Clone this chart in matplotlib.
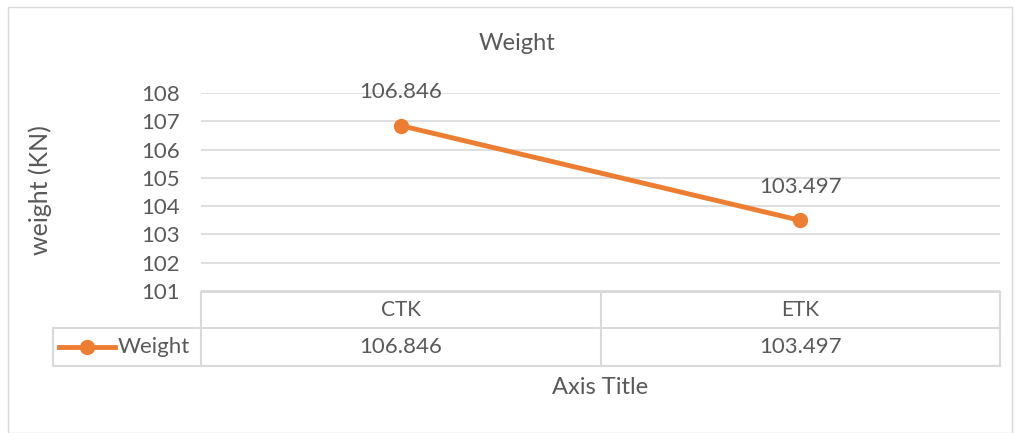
import matplotlib.pyplot as plt
from matplotlib.patches import Rectangle
from matplotlib.lines import Line2D

# Datos
categorias = ["CTK", "ETK"]
peso = [106.846, 103.497]
etiquetas_y = [101, 102, 103, 104, 105, 106, 107, 108]

plt.rcParams['font.family'] = ['Lato', 'DejaVu Sans']
gris = "#595959"
linea = "#d9d9d9"
naranja = "#ED7D31"

W, H = 1018, 433
fig = plt.figure(figsize=(W / 100, H / 100), dpi=100)

# marco del grafico
fig.patches.append(Rectangle((8 / W, 0), (1012 - 8) / W, 1 - 7 / H, transform=fig.transFigure,
                             fill=False, edgecolor=linea, linewidth=1))

x0, x1 = 201, 1000
ytop, ybot = 93, 291
ax = fig.add_axes([x0 / W, 1 - ybot / H, (x1 - x0) / W, (ybot - ytop) / H])
ax.set_xlim(-0.5, len(categorias) - 0.5)
ax.set_ylim(101, 108)
ax.set_yticks(etiquetas_y)
ax.yaxis.grid(True, color=linea, linewidth=1.2)
ax.set_axisbelow(True)
for s in ax.spines.values():
    s.set_visible(False)
ax.tick_params(axis='y', length=0, labelsize=16, labelcolor=gris, pad=15)
ax.tick_params(axis='x', length=0, labelbottom=False)

xs = list(range(len(categorias)))
ax.plot(xs, peso, color=naranja, linewidth=3.5, marker='o', markersize=10, zorder=3)
for x, v in zip(xs, peso):
    ax.annotate(f"{v:.3f}", (x, v), xytext=(0, 17), textcoords='offset points',
                ha='center', va='bottom', fontsize=16, color=gris)

fig.text(517 / W, 1 - 44 / H, "Weight", ha='center', va='center', fontsize=17, color=gris)
fig.text(40 / W, 1 - 190 / H, "weight (KN)", ha='center', va='center', rotation=90,
         fontsize=18, color=gris)
fig.text(600 / W, 1 - 387 / H, "Axis Title", ha='center', va='center', fontsize=17, color=gris)

# tabla de datos
def hline(xa, xb, y):
    fig.add_artist(Line2D([xa / W, xb / W], [1 - y / H, 1 - y / H], color=linea, linewidth=1.5))

def vline(x, ya, yb):
    fig.add_artist(Line2D([x / W, x / W], [1 - ya / H, 1 - yb / H], color=linea, linewidth=1.5))

r0, r1, r2 = 292, 328, 366
leg_x = 53
hline(x0, x1, r0)
hline(leg_x, x1, r1)
hline(leg_x, x1, r2)
vline(leg_x, r1, r2)
vline(x0, r0, r2)
colw = (x1 - x0) / len(categorias)
for i in range(1, len(categorias) + 1):
    vline(x0 + i * colw, r0, r2)
for i, (c, v) in enumerate(zip(categorias, peso)):
    cx = x0 + (i + 0.5) * colw
    fig.text(cx / W, 1 - (r0 + r1) / 2 / H, c, ha='center', va='center', fontsize=15, color=gris)
    fig.text(cx / W, 1 - (r1 + r2) / 2 / H, f"{v:.3f}", ha='center', va='center', fontsize=16, color=gris)

# leyenda en la tabla
ym = 1 - (r1 + r2) / 2 / H
fig.add_artist(Line2D([59 / W, 115 / W], [ym, ym], color=naranja, linewidth=3.5))
fig.add_artist(Line2D([87 / W], [ym], color=naranja, marker='o', markersize=10))
fig.text(118 / W, ym, "Weight", ha='left', va='center', fontsize=16, color=gris)

fig.savefig("out.png", dpi=100)
